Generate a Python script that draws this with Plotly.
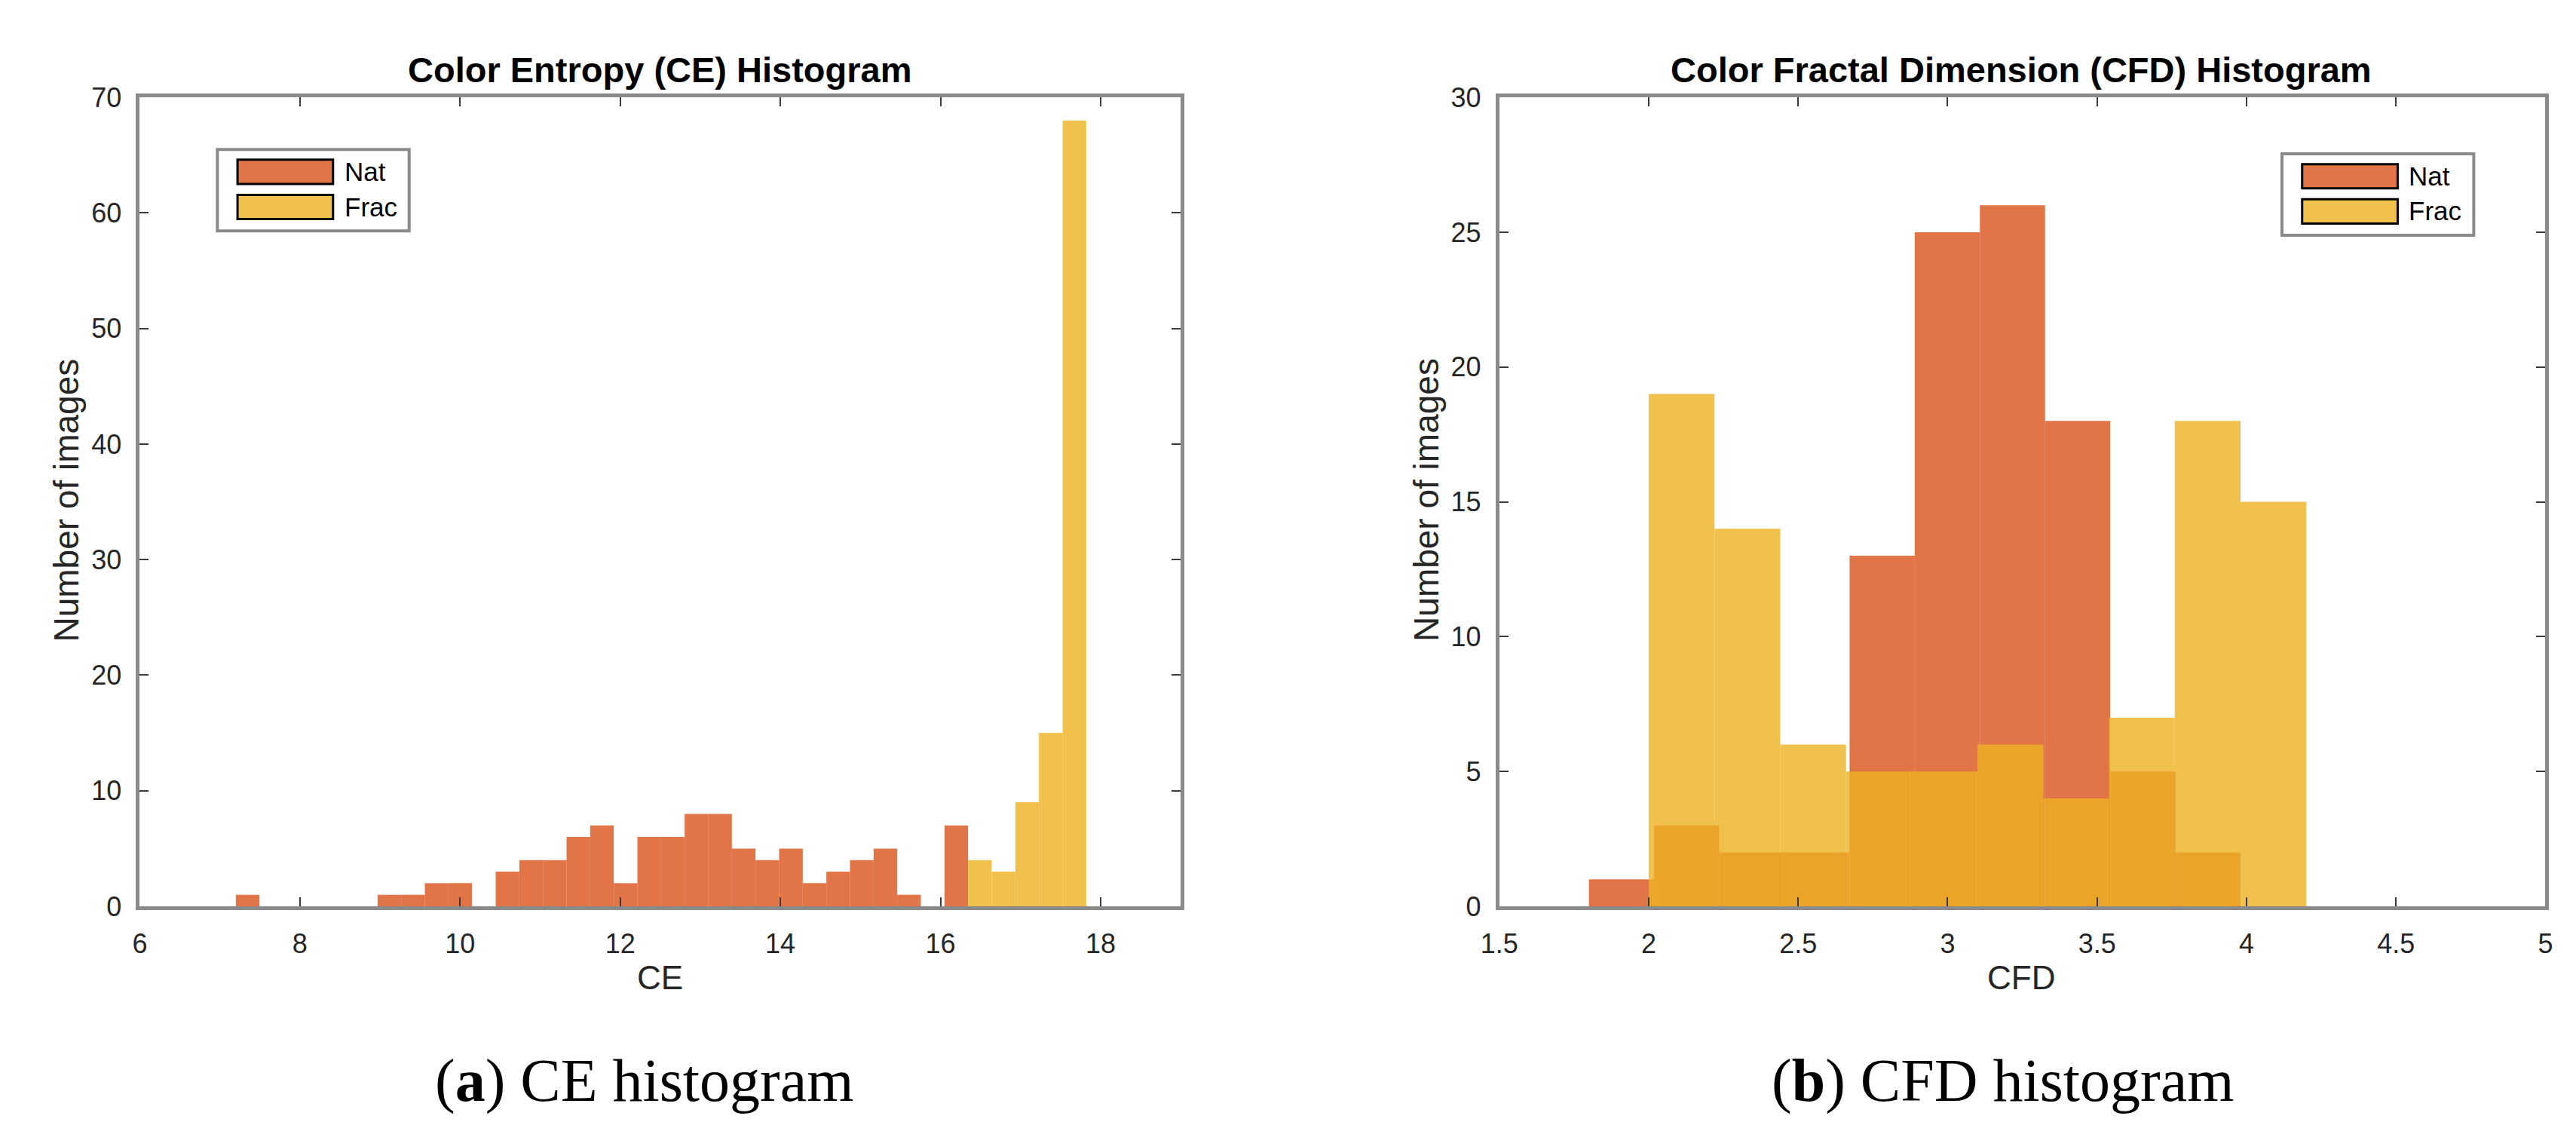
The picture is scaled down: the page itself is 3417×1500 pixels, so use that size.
import plotly.graph_objects as go

# ---- data: CE histogram (left panel) ----
ce_bin_left = [7.200, 7.495, 7.790, 8.085, 8.380, 8.675, 8.970, 9.265, 9.560, 9.855,
               10.150, 10.445, 10.740, 11.035, 11.330, 11.625, 11.920, 12.215, 12.510, 12.805,
               13.100, 13.395, 13.690, 13.985, 14.280, 14.575, 14.870, 15.165, 15.460, 15.755,
               16.050, 16.345, 16.640, 16.935, 17.230, 17.525]
ce_bin_width = 0.295
ce_nat = [1, 0, 0, 0, 0, 0, 1, 1, 2, 2,
          0, 3, 4, 4, 6, 7, 2, 6, 6, 8,
          8, 5, 4, 5, 2, 3, 4, 5, 1, 0,
          7, 0, 0, 0, 0, 0]
ce_frac = [0, 0, 0, 0, 0, 0, 0, 0, 0, 0,
           0, 0, 0, 0, 0, 0, 0, 0, 0, 0,
           0, 0, 0, 0, 0, 0, 0, 0, 0, 0,
           0, 4, 3, 9, 15, 68]

# ---- data: CFD histogram (right panel) ----
cfd_nat_left = [1.800, 2.018, 2.236, 2.454, 2.672, 2.890, 3.108, 3.326, 3.544, 3.762]
cfd_nat_width = 0.218
cfd_nat = [1, 3, 2, 2, 13, 25, 26, 18, 5, 2]
cfd_frac_left = [2.00, 2.22, 2.44, 2.66, 2.88, 3.10, 3.32, 3.54, 3.76, 3.98]
cfd_frac_width = 0.22
cfd_frac = [19, 14, 6, 5, 5, 6, 4, 7, 18, 15]

ce_ticks = [6, 8, 10, 12, 14, 16, 18]
cfd_ticks = [1.5, 2, 2.5, 3, 3.5, 4, 4.5, 5]
cfd_tick_text = ["1.5", "2", "2.5", "3", "3.5", "4", "4.5", "5"]

NAT_COLOR = "rgba(217,83,25,0.8)"
FRAC_COLOR = "rgba(237,177,32,0.8)"
AXIS_GRAY = "#8a8a8a"
TEXT_DARK = "#262626"

W, H = 3417, 1500


def px(x):
    return x / W


def py(y):
    return 1 - y / H


fig = go.Figure()

fig.add_trace(go.Bar(x=ce_bin_left, y=ce_nat, width=ce_bin_width, offset=0,
                     marker=dict(color=NAT_COLOR, line=dict(width=0)),
                     name="Nat", showlegend=False, xaxis="x", yaxis="y"))
fig.add_trace(go.Bar(x=ce_bin_left, y=ce_frac, width=ce_bin_width, offset=0,
                     marker=dict(color=FRAC_COLOR, line=dict(width=0)),
                     name="Frac", showlegend=False, xaxis="x", yaxis="y"))
fig.add_trace(go.Bar(x=cfd_nat_left, y=cfd_nat, width=cfd_nat_width, offset=0,
                     marker=dict(color=NAT_COLOR, line=dict(width=0)),
                     name="Nat", showlegend=False, xaxis="x2", yaxis="y2"))
fig.add_trace(go.Bar(x=cfd_frac_left, y=cfd_frac, width=cfd_frac_width, offset=0,
                     marker=dict(color=FRAC_COLOR, line=dict(width=0)),
                     name="Frac", showlegend=False, xaxis="x2", yaxis="y2"))

axis_style = dict(
    showline=True, linecolor=AXIS_GRAY, linewidth=5, mirror="ticks",
    ticks="inside", ticklen=12, tickwidth=2, tickcolor="#3a3a3a",
    showgrid=False, zeroline=False,
    tickfont=dict(family="Liberation Sans", size=36, color=TEXT_DARK),
)

ydom = [py(1207), py(104)]

fig.update_layout(
    width=W, height=H,
    margin=dict(l=0, r=0, t=0, b=0),
    paper_bgcolor="white", plot_bgcolor="white",
    barmode="overlay",
    showlegend=False,
    xaxis=dict(domain=[px(154), px(1549)], range=[6, 19], tickvals=ce_ticks,
               anchor="y", ticklabelstandoff=14, **axis_style),
    yaxis=dict(domain=ydom, range=[0, 70], dtick=10, anchor="x",
               ticklabelstandoff=12, **axis_style),
    xaxis2=dict(domain=[px(1976), px(3378)], range=[1.5, 5], tickvals=cfd_ticks,
                ticktext=cfd_tick_text, anchor="y2", ticklabelstandoff=14, **axis_style),
    yaxis2=dict(domain=ydom, range=[0, 30], dtick=5, anchor="x2",
                ticklabelstandoff=12, **axis_style),
)

annotations = []
# panel titles
for cx, txt in [(851, "Color Entropy (CE) Histogram"),
                (2675, "Color Fractal Dimension (CFD) Histogram")]:
    annotations.append(dict(x=px(cx), y=py(66), xref="paper", yref="paper",
                            text="<b>" + txt + "</b>", showarrow=False,
                            xanchor="center", yanchor="middle",
                            font=dict(family="Liberation Sans", size=47, color="black")))
# axis labels
for cx, txt in [(851, "CE"), (2675, "CFD")]:
    annotations.append(dict(x=px(cx), y=py(1304), xref="paper", yref="paper",
                            text=txt, showarrow=False, xanchor="center", yanchor="middle",
                            font=dict(family="Liberation Sans", size=44, color=TEXT_DARK)))
for cx in [56, 1878]:
    annotations.append(dict(x=px(cx), y=py(653), xref="paper", yref="paper",
                            text="Number of images", textangle=-90, showarrow=False,
                            xanchor="center", yanchor="middle",
                            font=dict(family="Liberation Sans", size=46, color=TEXT_DARK)))
# sub-captions
for cx, tag, txt in [(830, "a", "CE histogram"), (2651, "b", "CFD histogram")]:
    annotations.append(dict(x=px(cx), y=py(1445), xref="paper", yref="paper",
                            text="(<b>" + tag + "</b>) " + txt, showarrow=False,
                            xanchor="center", yanchor="middle",
                            font=dict(family="Liberation Serif", size=80, color="black")))

# legends drawn as boxes with swatches
shapes = []
for bx, by in [(258, 175), (3025, 181)]:
    shapes.append(dict(type="rect", xref="paper", yref="paper",
                       x0=px(bx), x1=px(bx + 257), y0=py(by + 111), y1=py(by),
                       fillcolor="white", line=dict(color=AXIS_GRAY, width=4)))
    for i, (label, color) in enumerate([("Nat", NAT_COLOR), ("Frac", FRAC_COLOR)]):
        top = by + 14 + i * 48
        shapes.append(dict(type="rect", xref="paper", yref="paper",
                           x0=px(bx + 27), x1=px(bx + 155), y0=py(top + 33), y1=py(top),
                           fillcolor=color, line=dict(color="black", width=3)))
        annotations.append(dict(x=px(bx + 168), y=py(top + 16), xref="paper", yref="paper",
                                text=label, showarrow=False, xanchor="left", yanchor="middle",
                                font=dict(family="Liberation Sans", size=35, color="black")))

fig.update_layout(annotations=annotations, shapes=shapes)

fig.write_html("out.html")
